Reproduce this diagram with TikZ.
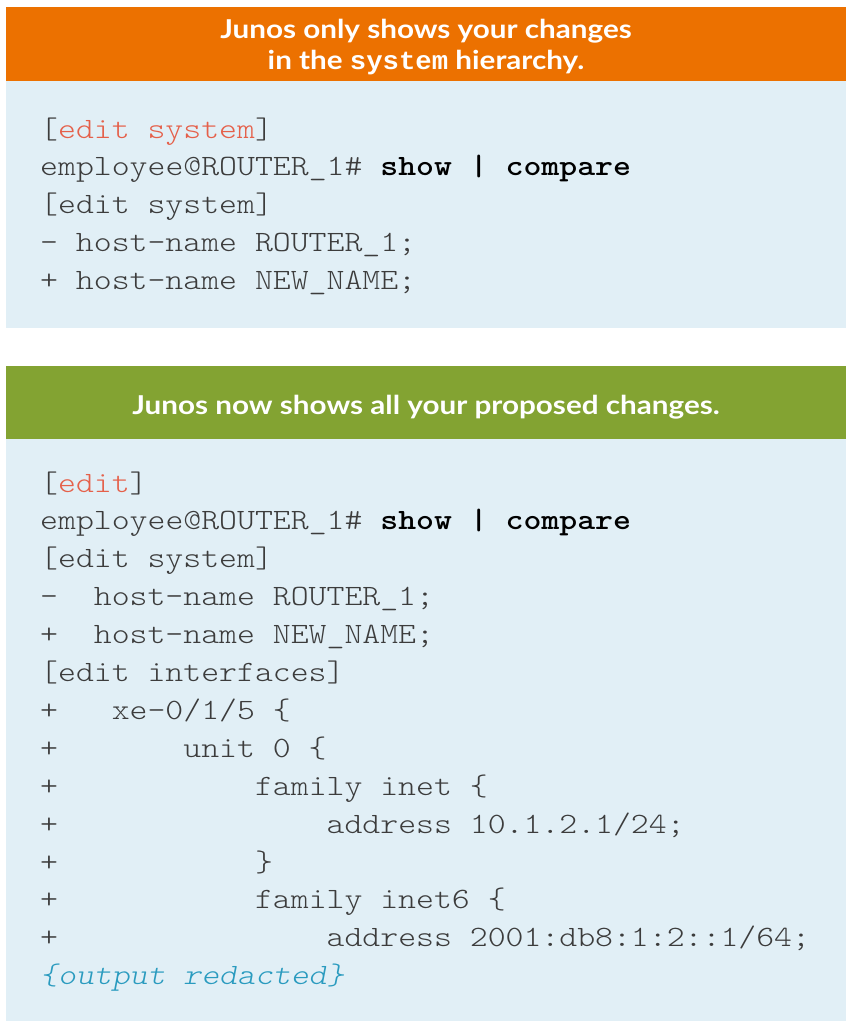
\documentclass[tikz,border=0pt]{standalone}
\usepackage{fontspec}
\newfontfamily\codefont{lmmonolt10-regular.otf}[FakeStretch=1.156, BoldFont=lmmonolt10-bold.otf, ItalicFont=lmmonolt10-oblique.otf]
\newfontfamily\headfont{Lato}[FakeStretch=1.14]
\definecolor{orangeC}{HTML}{EC7100}
\definecolor{greenC}{HTML}{83A332}
\definecolor{bodyC}{HTML}{E1EFF6}
\definecolor{codeC}{HTML}{3C3C3C}
\definecolor{redC}{HTML}{E5604A}
\definecolor{tealC}{HTML}{2A9BBF}
\tikzset{
  panel/.style={inner sep=0, outer sep=0, minimum width=840pt, anchor=north west},
  headtext/.style={inner sep=0, align=center, text=white, font=\headfont\bfseries\fontsize{26}{31}\selectfont},
  codeline/.style={anchor=base west, inner sep=0, text=codeC, font=\codefont\fontsize{29.5}{30}\selectfont\frenchspacing},
}
\begin{document}
\begin{tikzpicture}[x=1pt,y=-1pt]
\useasboundingbox (0,0) rectangle (855,1029);
% panels
\node[panel, fill=orangeC, minimum height=74pt] (h1) at (6,7) {};
\node[panel, fill=bodyC, minimum height=247pt] (b1) at (6,81) {};
\node[panel, fill=greenC, minimum height=73pt] (h2) at (6,366) {};
\node[panel, fill=bodyC, minimum height=582pt] (b2) at (6,439) {};
% headers
\node[headtext, anchor=base] (t1a) at (426,38) {Junos only shows your changes};
\node[headtext, anchor=base] (t1b) at (426,69) {in the {\fontspec{Liberation Mono}[FakeStretch=1.05]\bfseries system} hierarchy.};
\node[headtext, anchor=base] (t2) at (426,414) {Junos now shows all your proposed changes.};
% block 1
\node[codeline] (a1) at (40,138) {[\textcolor{redC}{edit~system}]};
\node[codeline] (a2) at (40,175.8) {employee@ROUTER\_1\#~\textcolor{black}{\bfseries show~|~compare}};
\node[codeline] (a3) at (40,213.6) {[edit~system]};
\node[codeline] (a4) at (40,251.4) {-~host-name~ROUTER\_1;};
\node[codeline] (a5) at (40,289.2) {+~host-name~NEW\_NAME;};
% block 2
\node[codeline] (c0) at (40,492) {[\textcolor{redC}{edit}]};
\node[codeline] (c1) at (40,529.9) {employee@ROUTER\_1\#~\textcolor{black}{\bfseries show~|~compare}};
\node[codeline] (c2) at (40,567.8) {[edit~system]};
\node[codeline] (c3) at (40,605.7) {-~~host-name~ROUTER\_1;};
\node[codeline] (c4) at (40,643.6) {+~~host-name~NEW\_NAME;};
\node[codeline] (c5) at (40,681.5) {[edit~interfaces]};
\node[codeline] (c6) at (40,719.4) {+~~~xe-0/1/5~\{};
\node[codeline] (c7) at (40,757.3) {+~~~~~~~unit~0~\{};
\node[codeline] (c8) at (40,795.2) {+~~~~~~~~~~~family~inet~\{};
\node[codeline] (c9) at (40,833.1) {+~~~~~~~~~~~~~~~address~10.1.2.1/24;};
\node[codeline] (c10) at (40,871) {+~~~~~~~~~~~\}};
\node[codeline] (c11) at (40,908.9) {+~~~~~~~~~~~family~inet6~\{};
\node[codeline] (c12) at (40,946.8) {+~~~~~~~~~~~~~~~address~2001:db8:1:2::1/64;};
\node[codeline, text=tealC] (c13) at (40,984.7) {\itshape\{output~redacted\}};
\end{tikzpicture}
\end{document}
